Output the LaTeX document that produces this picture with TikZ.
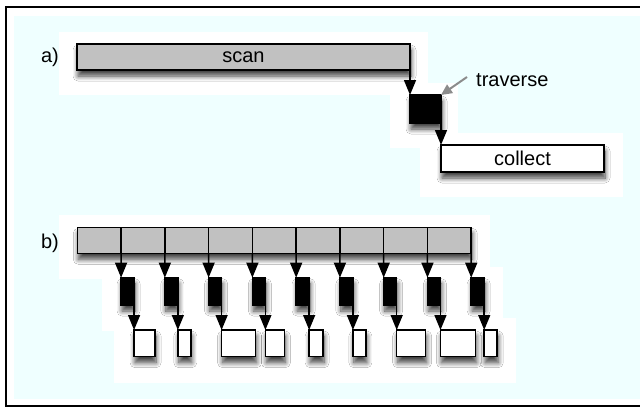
\documentclass[tikz,border=0pt]{standalone}
\usepackage{fontspec}
\setmainfont{Liberation Sans}
\usetikzlibrary{arrows.meta,shadows.blur}
\definecolor{bgcyan}{RGB}{239,255,255}
\definecolor{scangray}{RGB}{193,193,193}
\definecolor{pointgray}{RGB}{140,140,140}
\tikzset{
  shad/.style={blur shadow={shadow xshift=1pt,shadow yshift=-6pt,shadow blur radius=5pt,shadow blur steps=8,shadow opacity=75}},
  box/.style={draw=black,line width=1.5pt,inner sep=0pt,outer sep=0pt,shad},
  graybox/.style={box,fill=scangray},
  blackbox/.style={box,fill=black},
  whitebox/.style={box,fill=white},
  cellbox/.style={draw=black,line width=1.5pt,inner sep=0pt,outer sep=0pt,fill=scangray},
  flow/.style={line width=1.5pt,-{Triangle[length=15pt,width=12pt]}},
  pointer/.style={draw=pointgray,line width=2pt,-{Triangle[length=11pt,width=10pt]}},
  lbl/.style={font=\fontsize{20}{24}\selectfont,inner sep=0pt}
}
\begin{document}
\begin{tikzpicture}[x=1pt,y=-1pt]
\useasboundingbox (0,0) rectangle (640,407);
\fill[white] (0,0) rectangle (640,407);
\fill[bgcyan] (14,16) rectangle (640,399);
\draw[line width=2pt] (640,7.3) -- (5.7,7.3) -- (5.7,406) -- (640,406);
% white halos
\fill[white] (59,32) rectangle (428,95);
\fill[white] (390,83) rectangle (458,148);
\fill[white] (420,133) rectangle (622.7,197.3);
\fill[white] (59,215) rectangle (490,279);
\fill[white] (102,267) rectangle (503,331);
\fill[white] (114,318) rectangle (516,383);
% part a
\node[lbl] (la) at (50,57) {a)};
\node[graybox,lbl,anchor=north west,minimum width=333pt,minimum height=26pt] (scan) at (77,44) {scan};
\node[blackbox,anchor=north west,minimum width=31pt,minimum height=28pt] (trav) at (410,95) {};
\node[whitebox,lbl,anchor=north west,minimum width=163pt,minimum height=27pt] (coll) at (441,145) {collect};
\node[lbl,anchor=west] (tlabel) at (476,80) {traverse};
\draw[flow] (scan.south east) -- (trav.north west);
\draw[flow] (trav.south east) -- (coll.north west);
\draw[pointer] ([xshift=-9pt,yshift=3pt]tlabel.west) -- (trav.north east);
% part b
\node[lbl] (lb) at (50,243) {b)};
\node[graybox,anchor=north west,minimum width=393.93pt,minimum height=26pt] (bar) at (77.3,227.3) {};
\foreach \w [count=\i] in {21,13,34,19,14,13,29,35,13} {
  \pgfmathsetmacro{\cl}{77.3+(\i-1)*43.77}
  \pgfmathsetmacro{\cr}{\cl+43.77}
  \node[cellbox,anchor=north west,minimum width=43.77pt,minimum height=26pt] (c\i) at (\cl,227.3) {};
  \node[blackbox,anchor=north west,minimum width=13pt,minimum height=27.3pt] (k\i) at (\cr,277.7) {};
  \node[whitebox,anchor=north west,minimum width=\w pt,minimum height=26.7pt] (w\i) at (\cr+13,330) {};
  \draw[flow] (c\i.south east) -- (k\i.north west);
  \draw[flow] (k\i.south east) -- (w\i.north west);
}
\end{tikzpicture}
\end{document}
